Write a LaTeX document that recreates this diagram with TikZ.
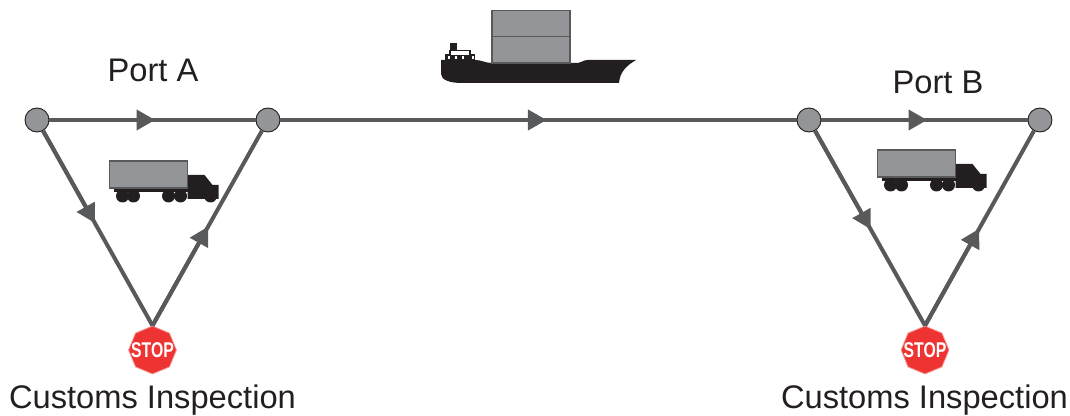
\documentclass[tikz,border=0pt]{standalone}
\usepackage{fontspec}
\setmainfont{Liberation Sans}
\usetikzlibrary{shapes.geometric, arrows.meta, positioning, calc}
\definecolor{linegray}{HTML}{58595B}
\definecolor{boxgray}{HTML}{939598}
\definecolor{hullblack}{HTML}{231F20}
\definecolor{stopred}{HTML}{EE3432}

\begin{document}
\begin{tikzpicture}[
  x=0.75pt, y=-0.75pt,
  portdot/.style={circle, draw=hullblack, line width=0.7pt, fill=boxgray, inner sep=0pt, minimum size=18pt},
  stopsign/.style={regular polygon, regular polygon sides=8, shape border rotate=22.5, draw=stopred!45, line width=0.6pt,
                   fill=stopred, inner sep=0pt, minimum size=36pt,
                   label={[text=white, inner sep=0pt, font=\bfseries\fontsize{16}{16}\selectfont]center:\scalebox{.74}[1]{STOP}}},
  textlabel/.style={font=\fontsize{24.5}{28}\selectfont, text=hullblack, inner sep=0pt},
  leadin/.style={-{Triangle[length=14pt, width=15pt]}, line width=3pt, linegray, shorten >=-2pt},
  leadout/.style={line width=2.4pt, linegray},
  sideout/.style={line width=3pt, linegray},
  container/.style={draw=linegray, line width=0.8pt, fill=boxgray},
  truck/.pic={
    \fill[hullblack] (4,27) rectangle (78,31);
    \fill[hullblack] (78,14) -- (95,14) -- (103,24) -- (109,24) -- (109,38) -- (78,38) -- cycle;
    \foreach \wx in {13,24,59,71,101}
      \fill[hullblack] (\wx,35) circle (6.5);
    \draw[container] (0,0) rectangle (78,27);
  },
  ship/.pic={
    \fill[hullblack] (441,60) -- (475,60) .. controls (482,60) and (485,63) .. (492,63) -- (578,63)
      .. controls (582,63) and (582,60) .. (588,60) -- (636,60)
      .. controls (626,66) and (620,72) .. (619,83) -- (462,83)
      .. controls (450,83) and (441,80) .. (441,74) -- cycle;
    \fill[hullblack] (445,54) rectangle (475,62);
    \fill[hullblack] (450,43) rectangle (457,50);
    \draw[hullblack, line width=1pt, fill=white] (450,55) -- (450,50.5) -- (470,50.5) -- (470,55);
    \foreach \wx in {448,455,462,472}
      \fill[white] (\wx,56) rectangle +(1.5,3);
    \draw[container] (492,10.5) rectangle (570,63);
    \draw[linegray, line width=1.1pt] (492,36.5) -- (570,36.5);
  },
]
  \useasboundingbox (0,0) rectangle (1070,416);

  \node[portdot] (a1) at (37,120) {};
  \node[portdot] (a2) at (268,120) {};
  \node[portdot] (b1) at (809,120) {};
  \node[portdot] (b2) at (1040,120) {};
  \node[stopsign] (stopA) at (152.5,350) {};
  \node[stopsign] (stopB) at (925,350) {};

  \node[textlabel] (portA) at (153,70.5) {Port A};
  \node[textlabel] (portB) at (938,82.5) {Port B};
  \node[textlabel] (customsA) at (152.5,400) {Customs Inspection};
  \node[textlabel] (customsB) at (924.5,400) {Customs Inspection};

  \coordinate (m1) at ($(a1)!0.5!(a2)$);
  \coordinate (m2) at ($(a1)!0.49!(stopA.north)$);
  \coordinate (m3) at ($(stopA.north)!0.47!(a2)$);
  \coordinate (m4) at ($(a2)!0.51!(b1)$);
  \coordinate (m5) at ($(b1)!0.5!(b2)$);
  \coordinate (m6) at ($(b1)!0.52!(stopB.north)$);
  \coordinate (m7) at ($(stopB.north)!0.46!(b2)$);

  \draw[leadout] (a1) -- (a2);
  \draw[sideout] (a1) -- (stopA.north);
  \draw[sideout] (stopA.north) -- (a2);
  \draw[leadout] (a2) -- (b1);
  \draw[leadout] (b1) -- (b2);
  \draw[sideout] (b1) -- (stopB.north);
  \draw[sideout] (stopB.north) -- (b2);

  \draw[leadin] (a1) -- (m1);
  \draw[leadin] (a1) -- (m2);
  \draw[leadin] (stopA.north) -- (m3);
  \draw[leadin] (a2) -- (m4);
  \draw[leadin] (b1) -- (m5);
  \draw[leadin] (b1) -- (m6);
  \draw[leadin] (stopB.north) -- (m7);

  \pic at (109.5,161) {truck};
  \pic at (877.5,150) {truck};
  \pic at (0,0) {ship};
\end{tikzpicture}
\end{document}
